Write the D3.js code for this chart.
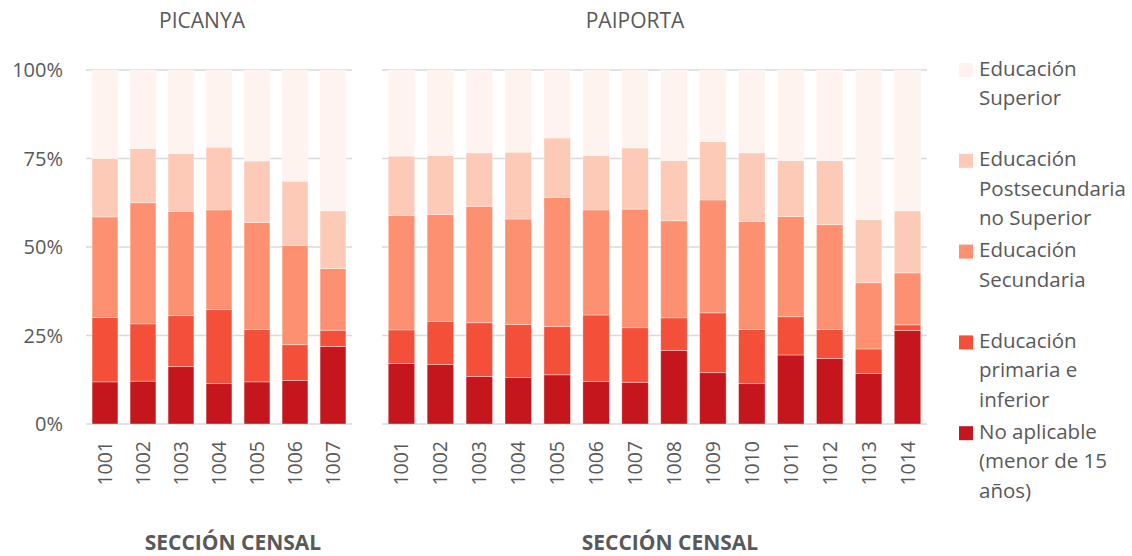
<!DOCTYPE html>
<html>
<head>
<meta charset="utf-8">
<script src="https://cdn.jsdelivr.net/npm/d3@7"></script>
<style>
  body { margin: 0; background: #fff; }
  text { font-family: "Open Sans", Lato, sans-serif; fill: #595959; }
</style>
</head>
<body>
<svg id="chart"></svg>
<script>
// series, bottom to top
const seriesKeys = ["noApl", "primaria", "secundaria", "postsec", "superior"];
const seriesNames = [
  ["No aplicable", "(menor de 15", "años)"],
  ["Educación", "primaria e", "inferior"],
  ["Educación", "Secundaria"],
  ["Educación", "Postsecundaria", "no Superior"],
  ["Educación", "Superior"]
];
const seriesColors = ["#c4161c", "#f44f39", "#fc9070", "#fccab6", "#fef3ee"];

const picanyaSecciones = ["1001", "1002", "1003", "1004", "1005", "1006", "1007"];
const picanyaNoApl = [11.9, 12.1, 16.2, 11.4, 11.9, 12.3, 21.9];
const picanyaPrimaria = [18.2, 16.2, 14.4, 20.9, 14.8, 10.1, 4.6];
const picanyaSecundaria = [28.4, 34.2, 29.4, 28.2, 30.2, 28.0, 17.4];
const picanyaPostsec = [16.5, 15.3, 16.4, 17.7, 17.4, 18.2, 16.3];
const picanyaSuperior = [25.0, 22.2, 23.6, 21.8, 25.7, 31.4, 39.8];

const paiportaSecciones = ["1001", "1002", "1003", "1004", "1005", "1006", "1007",
  "1008", "1009", "1010", "1011", "1012", "1013", "1014"];
const paiportaNoApl = [17.1, 16.8, 13.4, 13.1, 13.9, 12.0, 11.8, 20.8, 14.5, 11.4, 19.5, 18.5, 14.3, 26.4];
const paiportaPrimaria = [9.5, 12.2, 15.2, 15.0, 13.6, 18.8, 15.4, 9.2, 16.9, 15.3, 10.8, 8.2, 6.9, 1.6];
const paiportaSecundaria = [32.3, 30.2, 32.9, 29.8, 36.5, 29.7, 33.5, 27.4, 31.9, 30.5, 28.3, 29.6, 18.7, 14.7];
const paiportaPostsec = [16.8, 16.6, 15.1, 18.9, 16.8, 15.3, 17.3, 17.0, 16.5, 19.4, 15.8, 18.1, 17.8, 17.5];
const paiportaSuperior = [24.3, 24.2, 23.4, 23.2, 19.2, 24.2, 22.0, 25.6, 20.2, 23.4, 25.6, 25.6, 42.3, 39.8];

const yTicks = [0, 25, 50, 75, 100];

function buildRows(secs, cols) {
  return secs.map((s, i) => {
    let r = { seccion: s };
    seriesKeys.forEach((k, j) => r[k] = cols[j][i]);
    return r;
  });
}

const panels = [
  { title: "PICANYA", x0: 86, x1: 352, axis: true, titleX: 202, xTitleX: 233,
    rows: buildRows(picanyaSecciones, [picanyaNoApl, picanyaPrimaria, picanyaSecundaria, picanyaPostsec, picanyaSuperior]) },
  { title: "PAIPORTA", x0: 382, x1: 927, axis: false, titleX: 635, xTitleX: 670,
    rows: buildRows(paiportaSecciones, [paiportaNoApl, paiportaPrimaria, paiportaSecundaria, paiportaPostsec, paiportaSuperior]) }
];

const W = 1132, H = 556;
const plotTop = 70, plotBottom = 424;

const svg = d3.select("#chart").attr("width", W).attr("height", H);

const color = d3.scaleOrdinal().domain(seriesKeys).range(seriesColors);

panels.forEach(p => {
  const total = r => seriesKeys.reduce((a, k) => a + r[k], 0);
  const stack = d3.stack().keys(seriesKeys)
    .value((d, k) => d[k] / total(d) * 100);
  const layers = stack(p.rows);

  const x = d3.scaleBand()
    .domain(p.rows.map(d => d.seccion))
    .range([p.x0, p.x1])
    .paddingInner(0.32)
    .paddingOuter(0.16);

  const y = d3.scaleLinear().domain([0, 100]).range([plotBottom, plotTop]);

  const g = svg.append("g");

  // gridlines
  g.selectAll(".grid").data(yTicks).enter().append("line")
    .attr("x1", p.x0).attr("x2", p.x1)
    .attr("y1", d => y(d)).attr("y2", d => y(d))
    .attr("stroke", "#d9d9d9")
    .attr("stroke-width", 1.5);

  if (p.axis) {
    g.selectAll(".ytick").data(yTicks).enter().append("text")
      .attr("x", 63)
      .attr("y", d => y(d))
      .attr("dy", "0.35em")
      .attr("text-anchor", "end")
      .style("font-size", "20px")
      .text(d => d + "%");
  }

  g.selectAll(".layer").data(layers).enter().append("g")
    .attr("fill", d => color(d.key))
    .selectAll("rect").data(d => d).enter().append("rect")
    .attr("x", d => x(d.data.seccion))
    .attr("width", x.bandwidth())
    .attr("y", d => y(d[1]))
    .attr("height", d => y(d[0]) - y(d[1]))
    .attr("stroke", "#ffffff")
    .attr("stroke-opacity", 0.45)
    .attr("stroke-width", 0.8);

  // x labels
  g.selectAll(".xlab").data(p.rows).enter().append("text")
    .attr("transform", d => `translate(${x(d.seccion) + x.bandwidth() / 2},441) rotate(-90)`)
    .attr("dy", "0.36em")
    .attr("text-anchor", "end")
    .style("font-size", "19.5px")
    .text(d => d.seccion);

  svg.append("text")
    .attr("x", p.titleX)
    .attr("y", 28)
    .attr("text-anchor", "middle")
    .style("font-size", "21px")
    .text(p.title);

  svg.append("text")
    .attr("x", p.xTitleX)
    .attr("y", 550)
    .attr("text-anchor", "middle")
    .style("font-size", "21px")
    .style("font-weight", "bold")
    .text("SECCIÓN CENSAL");
});

// legend, top entry first
const legendOrder = seriesKeys.slice().reverse();
const legend = svg.append("g").attr("transform", "translate(959,63)");
legendOrder.forEach((k, i) => {
  const idx = seriesKeys.indexOf(k);
  const item = legend.append("g").attr("transform", `translate(0,${i * 90.8})`);
  item.append("rect")
    .attr("width", 14).attr("height", 14)
    .attr("fill", color(k));
  item.selectAll("text").data(seriesNames[idx]).enter().append("text")
    .attr("x", 20)
    .attr("y", (d, j) => 12.5 + j * 29.5)
    .style("font-size", "20.5px")
    .text(d => d);
});
</script>
</body>
</html>
